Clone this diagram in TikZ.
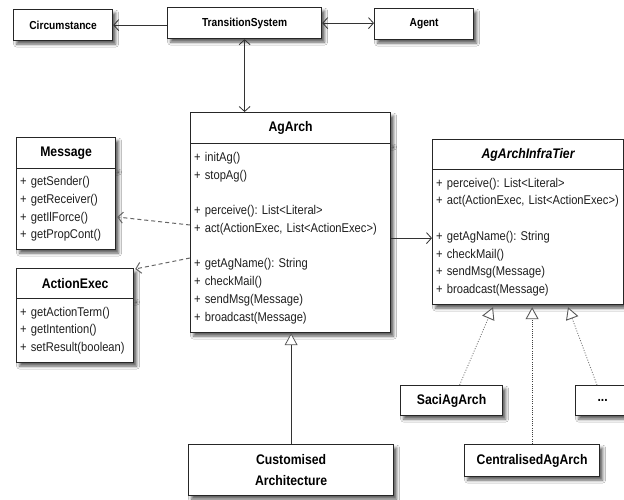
\documentclass[tikz,border=0pt]{standalone}
\usepackage{fontspec}
\setmainfont{Liberation Sans}[FakeStretch=0.88]
\usetikzlibrary{arrows.meta,calc,shadows.blur}
\frenchspacing

\tikzset{
  box/.style={draw=black!85, line width=1.2pt, fill=white, inner sep=0pt,
    blur shadow={shadow xshift=3pt, shadow yshift=-3.5pt, shadow blur radius=3pt, shadow opacity=65}},
  plainbox/.style={box, anchor=north west, font=\fontsize{11.6}{13}\selectfont\bfseries},
  leafbox/.style={box, anchor=north west, align=center, font=\fontsize{13.9}{21}\selectfont\bfseries},
  classhead/.style={box, anchor=north west, font=\fontsize{13.9}{15}\selectfont\bfseries},
  classbody/.style={box, anchor=north west, align=left, inner xsep=3.5pt,
    font=\fontsize{12.7}{17.7}\selectfont, text=black!88},
  assoc/.style={draw=black!80, line width=0.8pt, -{Straight Barb[length=5pt,width=11pt]}},
  biassoc/.style={draw=black!80, line width=0.8pt,
    {Straight Barb[length=5pt,width=11pt]}-{Straight Barb[length=5pt,width=11pt]}},
  dep/.style={draw=black!60, line width=1pt, dash pattern=on 4pt off 3pt,
    -{Straight Barb[length=5pt,width=11pt]}},
  inherit/.style={draw=black!80, line width=0.8pt,
    -{Triangle[length=12pt,width=13pt,fill=white,color=black!65]}},
  realize/.style={draw=black!55, line width=0.8pt, dash pattern=on 1pt off 1.6pt,
    -{Triangle[length=12pt,width=13pt,fill=white,color=black!65,line width=0.9pt]}},
  realizedense/.style={draw=black!75, line width=0.9pt, dash pattern=on 1pt off 1.2pt,
    -{Triangle[length=12pt,width=13pt,fill=white,color=black!65]}},
}

\begin{document}
\begin{tikzpicture}[x=1pt, y=-1pt]
\path[use as bounding box, fill=white] (0,0) rectangle (624,500);

% top row
\node[plainbox, minimum width=99pt, minimum height=31pt] (circ) at (13,9) {Circumstance};
\node[plainbox, minimum width=154pt, minimum height=31pt] (ts) at (167,7) {TransitionSystem};
\node[plainbox, minimum width=99pt, minimum height=31pt] (agent) at (374,8) {Agent};

% Message
\node[classhead, minimum width=99pt, minimum height=31pt] (msg) at (16,137) {Message};
\node[classbody, text width=92pt, minimum height=81pt] (msg-ops) at (16,168)
  {+ getSender()\\+ getReceiver()\\+ getIlForce()\\+ getPropCont()};

% ActionExec
\node[classhead, minimum width=117pt, minimum height=30pt] (ae) at (16,268) {ActionExec};
\node[classbody, text width=110pt, minimum height=64pt] (ae-ops) at (16,298)
  {+ getActionTerm()\\+ getIntention()\\+ setResult(boolean)};

% AgArch
\node[classhead, minimum width=200pt, minimum height=31pt] (agarch) at (190,112) {AgArch};
\node[classbody, text width=193pt, minimum height=189pt] (agarch-ops) at (190,143)
  {+ initAg()\\+ stopAg()\\[17.7pt]+ perceive(): List<Literal>\\+ act(ActionExec, List<ActionExec>)\\[17.7pt]%
   + getAgName(): String\\+ checkMail()\\+ sendMsg(Message)\\+ broadcast(Message)};

% AgArchInfraTier
\node[classhead, minimum width=191pt, minimum height=30pt, font=\fontsize{13.9}{15}\selectfont\bfseries\itshape] (infra) at (432,139) {AgArchInfraTier};
\node[classbody, text width=184pt, minimum height=135pt] (infra-ops) at (432,169)
  {+ perceive(): List<Literal>\\+ act(ActionExec, List<ActionExec>)\\[17.7pt]%
   + getAgName(): String\\+ checkMail()\\+ sendMsg(Message)\\+ broadcast(Message)};

% infrastructure implementations
\node[leafbox, minimum width=102pt, minimum height=30pt] (saci) at (400,385) {SaciAgArch};
\node[leafbox, minimum width=54pt, minimum height=30pt] (dots) at (575,385) {...};
\node[leafbox, minimum width=135pt, minimum height=32pt] (central) at (464,444) {CentralisedAgArch};
\node[leafbox, minimum width=205pt, minimum height=51pt] (custom) at (188,444) {Customised\\Architecture};

% connectors
\draw[assoc] (ts.west |- circ.east) -- (circ.east);
\draw[biassoc] (ts.east) -- (ts.east -| agent.west);
\draw[biassoc] (ts.south) -- (ts.south |- agarch.north);
\draw[dep] ($(agarch-ops.north west)+(0,82)$) -- ($(msg-ops.north east)+(1,49)$);
\draw[dep] ($(agarch-ops.north west)+(0,115)$) -- ($(ae.north east)+(1,1)$);
\draw[assoc] (agarch-ops.east) -- (agarch-ops.east -| infra-ops.west);
\draw[inherit] (custom.north) -- (custom.north |- agarch-ops.south);
\draw[realize] ($(saci.north)+(8,0)$) -- ($(infra-ops.south west)+(61,2)$);
\draw[realizedense] (central.north) -- ($(central.north |- infra-ops.south)+(0,2)$);
\draw[realize] ($(dots.north west)+(22,0)$) -- ($(infra-ops.south west)+(136,2)$);
\end{tikzpicture}
\end{document}
